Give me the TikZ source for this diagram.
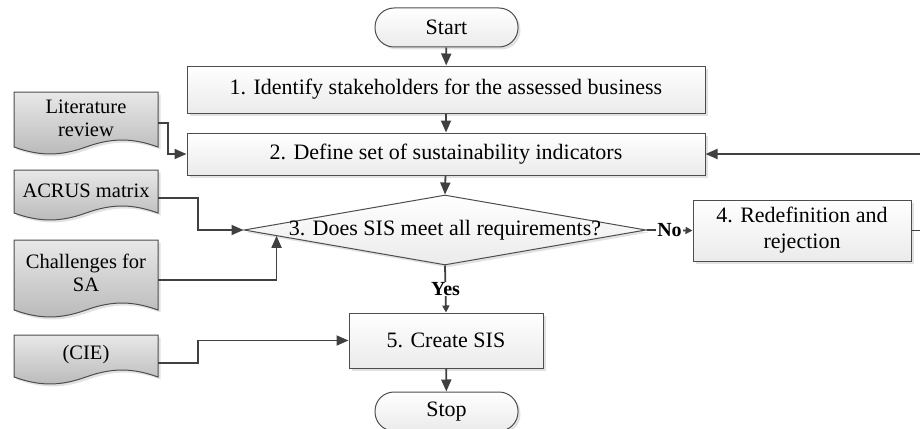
\documentclass[tikz,border=0pt]{standalone}
\usepackage{fontspec}
\setmainfont{Liberation Serif}
\usetikzlibrary{shapes.geometric,shadows,arrows.meta,calc}
\definecolor{linec}{HTML}{404040}
\definecolor{bordc}{HTML}{4D4D4D}
\tikzset{
  shad/.style={drop shadow={shadow xshift=2.5pt, shadow yshift=-2.5pt, fill=gray!45, opacity=0.5}},
  proc/.style={draw=bordc, line width=1pt, top color=white, bottom color=gray!16, shad,
    font=\fontsize{22}{26}\selectfont, align=center, inner sep=0pt},
  term/.style={proc, rounded corners=19pt, minimum width=143pt, minimum height=39pt},
  docnode/.style={inner sep=0pt, align=center, font=\fontsize{20.5}{23.5}\selectfont, minimum width=144pt},
  docshape/.style={draw=bordc, line width=1pt, top color=gray!18, bottom color=gray!55, shad},
  conn/.style={draw=linec, line width=1.8pt, -{Triangle[length=12pt,width=10pt]}},
  lconn/.style={draw=linec, line width=1.8pt, -{Triangle[length=7pt,width=7pt]}},
  lbl/.style={fill=white, font=\fontsize{20}{22}\selectfont\bfseries, inner sep=0.8pt}
}
\newcommand\docpath[4]{%
  \path[docshape] (#1,#2) -- (#3,#2) -- (#3,#4)
   .. controls ({#3-0.18*(#3-#1)},{#4-9.3}) and ({#3-0.32*(#3-#1)},{#4-9.3}) .. ({(#1+#3)/2},#4)
   .. controls ({#1+0.32*(#3-#1)},{#4+9.3}) and ({#1+0.18*(#3-#1)},{#4+9.3}) .. (#1,#4) -- cycle;}
\begin{document}
\begin{tikzpicture}[x=1pt,y=-1pt]
\useasboundingbox (0,0) rectangle (920,428);
% process nodes
\node[term] (start) at (446.5,27.5) {Start};
\node[proc, minimum width=518pt, minimum height=47pt] (b1) at (446,89.5) {1. Identify stakeholders for the assessed business};
\node[proc, minimum width=518pt, minimum height=42pt] (b2) at (446,154) {2. Define set of sustainability indicators};
\node[draw=bordc, line width=1pt, diamond, aspect=5.74, minimum width=402pt, minimum height=70pt,
  inner sep=0pt, top color=white, bottom color=gray!16, shad] (dia) at (445,230) {};
\node[font=\fontsize{22}{26}\selectfont, inner sep=0pt] (diatext) at (dia.center) {3. Does SIS meet all requirements?};
\node[proc, minimum width=218pt, minimum height=61pt] (b4) at (802,230.5) {4. Redefinition and\\rejection};
\node[proc, minimum width=194pt, minimum height=55pt] (b5) at (446,340.5) {5. Create SIS};
\node[term] (stop) at (446.5,411.5) {Stop};
% documents
\docpath{14}{92}{158}{147}
\node[docnode, minimum height=55pt] (lit) at (86,118.5) {Literature\\review};
\docpath{14}{170}{158}{213}
\node[docnode, minimum height=43pt] (acrus) at (86,190.5) {ACRUS matrix};
\docpath{14}{240}{158}{310}
\node[docnode, minimum height=70pt] (chal) at (86,273) {Challenges for\\SA};
\docpath{14}{335}{158}{377}
\node[docnode, minimum height=42pt] (cie) at (86,355) {(CIE)};
% connectors
\draw[conn] (start) -- (b1);
\draw[conn] (b1) -- (b2);
\draw[conn] (b2) -- (dia.north);
\draw[conn] (b5) -- (stop);
\draw[conn] ([yshift=-4.5pt]lit.east) -- ++(10,0) |- (b2.west);
\draw[conn] ([yshift=-7.5pt]acrus.east) -- ++(40,0) |- (dia.west);
\coordinate (chalin) at ($(dia.west)!0.164!(dia.south)$);
\draw[conn] ([yshift=-7pt]chal.east) -| (chalin);
\draw[conn] ([yshift=-8pt]cie.east) -- ++(40,0) |- (b5.west);
\draw[lconn] (dia.south) -- node[lbl] {Yes} (b5.north);
\draw[lconn] (dia.east) -- node[lbl] {No} (b4.west);
\draw[conn] (b4.east) -- ++(15,0) |- (b2.east);
\end{tikzpicture}
\end{document}
